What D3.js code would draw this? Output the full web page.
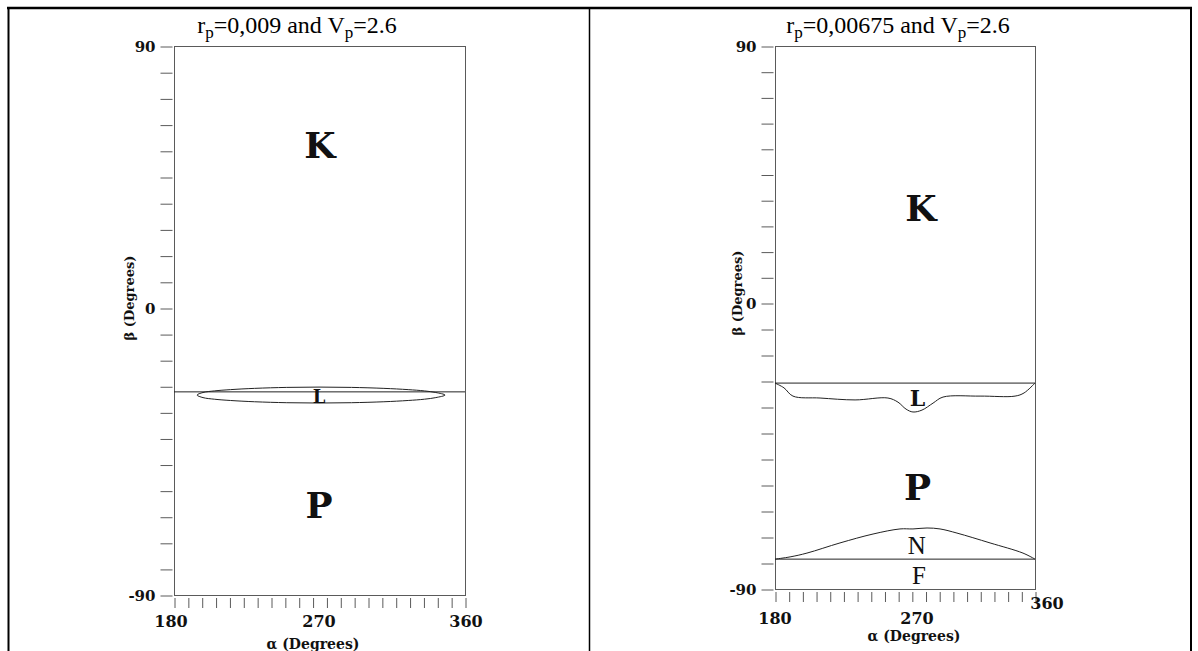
<!DOCTYPE html>
<html>
<head>
<meta charset="utf-8">
<script src="https://cdn.jsdelivr.net/npm/d3@7"></script>
<style>
  body { margin: 0; background: #fff; }
</style>
</head>
<body>
<div id="chart"></div>
<script>
// Axis labels shared by both panels
const alphaLabels = [180, 270, 360]
const betaLabels = [-90, 0, 90]

// Left panel (r_p = 0,009): flat boundary and the thin lens region L
const leftLineAlpha = [180, 360]
const leftLineBeta = [-26.3, -26.3]
const leftLensAlpha = [194.3, 198, 205, 215, 230, 250, 270, 290, 310, 325, 335, 342, 347.7]
const leftLensUpper = [-27.3, -26.5, -26.0, -25.6, -25.2, -24.9, -24.8, -24.9, -25.2, -25.6, -26.0, -26.5, -27.3]
const leftLensLower = [-27.3, -28.1, -28.6, -29.0, -29.4, -29.7, -29.8, -29.7, -29.4, -29.0, -28.6, -28.1, -27.3]

// Right panel (r_p = 0,00675)
const rightTopAlpha = [180, 360]
const rightTopBeta = [-25.2, -25.2]
const rightLAlpha = [180, 185.9, 191.8, 209.6, 232.6, 254.2, 260.8, 266.1, 270.7, 277.3, 285.4, 292.7, 319.8, 345.4, 352, 360]
const rightLBeta = [-25.2, -26.7, -29.3, -29.9, -30.5, -29.9, -31.2, -33.4, -34.3, -33.7, -31.5, -29.6, -29.3, -29.3, -28.3, -25.2]
const rightNAlpha = [180, 189.9, 201, 222.7, 244.4, 262.1, 270.7, 281, 290.5, 302.9, 327.1, 351.2, 360]
const rightNBeta = [-80.6, -79.9, -78.7, -75.5, -72.7, -71.1, -71.1, -70.8, -71.1, -72.4, -75.5, -78.7, -80.6]
const rightBottomAlpha = [180, 360]
const rightBottomBeta = [-80.6, -80.6]

// Region names
const leftRegionNames = ["K", "L", "P"]
const leftRegionAlpha = [270.6, 270, 270]
const leftRegionBeta = [56, -27.6, -61.8]
const rightRegionNames = ["K", "L", "P", "N", "F"]
const rightRegionAlpha = [276.6, 274, 274, 273.5, 275]
const rightRegionBeta = [33.3, -29.9, -58, -76.2, -85.6]

const W = 1198, H = 651

const svg = d3.select("#chart")
  .append("svg")
  .attr("width", W)
  .attr("height", H)

// ------------------------------- //
// Table frame around the two plots
// ------------------------------- //
svg.append("line").attr("x1", 7).attr("x2", 1192).attr("y1", 8).attr("y2", 8)
  .attr("stroke", "#000").attr("stroke-width", 2.5)
svg.append("line").attr("x1", 8.5).attr("x2", 8.5).attr("y1", 7).attr("y2", H)
  .attr("stroke", "#000").attr("stroke-width", 2)
svg.append("line").attr("x1", 589.5).attr("x2", 589.5).attr("y1", 7).attr("y2", H)
  .attr("stroke", "#000").attr("stroke-width", 1.5)
svg.append("line").attr("x1", 1191).attr("x2", 1191).attr("y1", 7).attr("y2", H)
  .attr("stroke", "#000").attr("stroke-width", 2)

const tickFont = "'DejaVu Serif', serif"
const timesFont = "'Liberation Serif', 'Times New Roman', serif"

function drawPanel(p) {
  // polylinear scales, as in the original figure the middle label is not centred
  const x = d3.scaleLinear().domain(alphaLabels).range([p.x0, p.xMid, p.x1])
  const y = d3.scaleLinear().domain(betaLabels).range([p.yBot, p.yZero, p.yTop])

  const g = svg.append("g")

  // box
  g.append("rect")
    .attr("x", p.x0 + 0.5).attr("y", p.yTop + 0.5)
    .attr("width", p.x1 - p.x0).attr("height", p.yBot - p.yTop)
    .attr("fill", "none").attr("stroke", "#5a5a5a").attr("stroke-width", 1)

  // y ticks: 11 steps below 0, 10 steps above
  const yTicks = d3.range(12).map(i => -90 + i * 90 / 11)
    .concat(d3.range(1, 11).map(i => i * 9))
  const yAxis = g.append("g")
    .attr("transform", `translate(${p.x0 - 1.5},0.5)`)
    .call(d3.axisLeft(y).tickValues(yTicks).tickSize(12).tickPadding(5)
      .tickFormat(d => {
        const m = betaLabels.find(b => Math.abs(b - d) < 1e-6)
        return m === undefined ? "" : m
      }))
  yAxis.select(".domain").remove()
  yAxis.selectAll("line").attr("stroke", "#5a5a5a")
  yAxis.selectAll("text")
    .attr("font-family", tickFont).attr("font-weight", "bold")
    .attr("font-size", 15).attr("fill", "#111")

  // x ticks: evenly spaced along the box
  const px = d3.range(p.nX + 1).map(i => p.x0 + i * (p.x1 - p.x0) / p.nX)
  const xAxis = g.append("g")
    .attr("transform", `translate(0.5,${p.yBot + 3})`)
    .call(d3.axisBottom(x).tickValues(px.map(v => x.invert(v))).tickSize(10).tickFormat(""))
  xAxis.select(".domain").remove()
  xAxis.selectAll("line").attr("stroke", "#5a5a5a")

  g.selectAll(".xlab")
    .data(alphaLabels)
    .join("text")
      .attr("x", (d, i) => x(d) + p.xLabDx[i])
      .attr("y", (d, i) => p.yBot + p.xLabDy[i])
      .attr("text-anchor", "middle")
      .attr("font-family", tickFont).attr("font-weight", "bold")
      .attr("font-size", 16).attr("fill", "#111")
      .text(d => d)

  // axis titles
  g.append("text")
    .attr("x", p.alphaTitleX).attr("y", p.yBot + p.alphaTitleDy)
    .attr("text-anchor", "middle")
    .attr("font-family", tickFont).attr("font-weight", "bold")
    .attr("font-size", 14).attr("fill", "#111")
    .text("α (Degrees)")
  g.append("text")
    .attr("transform", `translate(${p.betaTitleX},${p.betaTitleY}) rotate(-90)`)
    .attr("text-anchor", "middle")
    .attr("dominant-baseline", "central")
    .attr("font-family", tickFont).attr("font-weight", "bold")
    .attr("font-size", 13).attr("fill", "#111")
    .text("β (Degrees)")

  // panel title with subscripts
  const t = g.append("text")
    .attr("x", p.titleX).attr("y", 33)
    .attr("text-anchor", "middle")
    .attr("font-family", timesFont).attr("font-size", 24).attr("fill", "#000")
  t.append("tspan").text("r")
  t.append("tspan").attr("font-size", 17).attr("dy", 5).text("p")
  t.append("tspan").attr("dy", -5).text(`=${p.rp} and V`)
  t.append("tspan").attr("font-size", 17).attr("dy", 5).text("p")
  t.append("tspan").attr("dy", -5).text("=2.6")

  return {g, x, y}
}

const line = (x, y) => d3.line().x(d => x(d[0])).y(d => y(d[1]))

// ------------------------------- //
// Left panel
// ------------------------------- //
const L = drawPanel({
  x0: 174, xMid: 319, x1: 465, yTop: 46, yZero: 308, yBot: 595, nX: 21,
  xLabDx: [-3, 0, 1], xLabDy: [32, 32, 32],
  alphaTitleX: 313, alphaTitleDy: 54, betaTitleX: 129, betaTitleY: 298,
  titleX: 297, rp: "0,009"
})

L.g.append("path")
  .datum(leftLineAlpha.map((a, i) => [a, leftLineBeta[i]]))
  .attr("d", line(L.x, L.y))
  .attr("fill", "none").attr("stroke", "#222").attr("stroke-width", 1)

const lens = leftLensAlpha.map((a, i) => [a, leftLensUpper[i]])
  .concat(leftLensAlpha.slice(1, -1).reverse().map((a, i) => [a, leftLensLower[leftLensAlpha.length - 2 - i]]))
L.g.append("path")
  .datum(lens)
  .attr("d", line(L.x, L.y).curve(d3.curveCatmullRomClosed))
  .attr("fill", "none").attr("stroke", "#222").attr("stroke-width", 1)

L.g.selectAll(".region")
  .data(leftRegionNames)
  .join("text")
    .attr("x", (d, i) => L.x(leftRegionAlpha[i]))
    .attr("y", (d, i) => L.y(leftRegionBeta[i]))
    .attr("text-anchor", "middle")
    .attr("dominant-baseline", "central")
    .attr("font-family", tickFont).attr("font-weight", "bold")
    .attr("font-size", d => d === "L" ? 18 : 36)
    .attr("fill", "#111")
    .text(d => d)

// ------------------------------- //
// Right panel
// ------------------------------- //
const R = drawPanel({
  x0: 775, xMid: 912, x1: 1035, yTop: 46, yZero: 303, yBot: 589, nX: 19,
  xLabDx: [0, 5, 12], xLabDy: [35, 35, 20],
  alphaTitleX: 914, alphaTitleDy: 52, betaTitleX: 737, betaTitleY: 293,
  titleX: 898, rp: "0,00675"
})

const rightCurves = [
  [rightTopAlpha, rightTopBeta, false],
  [rightLAlpha, rightLBeta, true],
  [rightNAlpha, rightNBeta, true],
  [rightBottomAlpha, rightBottomBeta, false]
]
rightCurves.forEach(([a, b, smooth]) => {
  const gen = line(R.x, R.y)
  if (smooth) gen.curve(d3.curveCatmullRom)
  R.g.append("path")
    .datum(a.map((v, i) => [v, b[i]]))
    .attr("d", gen)
    .attr("fill", "none").attr("stroke", "#222").attr("stroke-width", 1)
})

R.g.selectAll(".region")
  .data(rightRegionNames)
  .join("text")
    .attr("x", (d, i) => R.x(rightRegionAlpha[i]))
    .attr("y", (d, i) => R.y(rightRegionBeta[i]))
    .attr("text-anchor", "middle")
    .attr("dominant-baseline", "central")
    .attr("font-family", d => (d === "N" || d === "F") ? timesFont : tickFont)
    .attr("font-weight", d => (d === "N" || d === "F") ? "normal" : "bold")
    .attr("font-size", d => d === "L" ? 22 : (d === "N" || d === "F") ? 25 : 36)
    .attr("fill", "#111")
    .text(d => d)
</script>
</body>
</html>
